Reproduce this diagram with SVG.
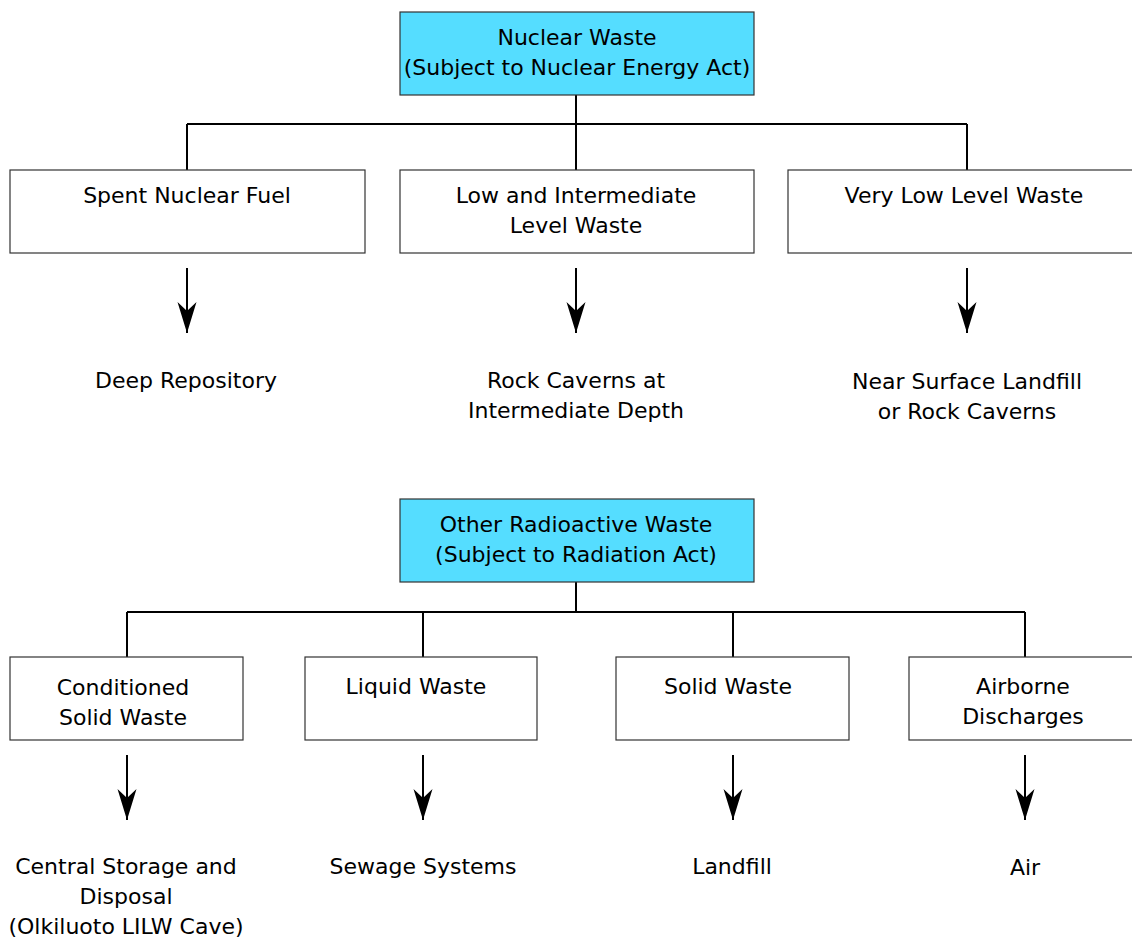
<svg xmlns="http://www.w3.org/2000/svg" width="1132" height="938" viewBox="0 0 1132 938">
<style>
text{font-family:"DejaVu Sans",Verdana,sans-serif;font-size:22px;fill:#000;text-anchor:middle}
.box{fill:#fff;stroke:#333;stroke-width:1.2}
.hd{fill:#55ddff;stroke:#333;stroke-width:1.2}
.ln{fill:none;stroke:#000;stroke-width:2}
.ar{fill:none;stroke:#000;stroke-width:2;marker-end:url(#arr)}
</style>
<defs>
<marker id="arr" markerUnits="userSpaceOnUse" markerWidth="32" markerHeight="22" viewBox="0 0 32 22" refX="31" refY="11" orient="auto">
<path d="M0,1.5 L31,11 L0,20.5 L9,11 Z" fill="#000"/>
</marker>
</defs>
<rect width="1132" height="938" fill="#fff"/>
<g id="connectors">
<path class="ln" d="M576,95 V124 M187,124 H967 M187,124 V170 M576,124 V170 M967,124 V170"/>
<path class="ar" d="M187,268 V333"/>
<path class="ar" d="M576,268 V333"/>
<path class="ar" d="M967,268 V333"/>
<path class="ln" d="M576,582 V612 M127,612 H1025 M127,612 V657 M423,612 V657 M733,612 V657 M1025,612 V657"/>
<path class="ar" d="M127,755 V820"/>
<path class="ar" d="M423,755 V820"/>
<path class="ar" d="M733,755 V820"/>
<path class="ar" d="M1025,755 V820"/>
</g>
<g id="nuclear-waste"><rect class="hd" x="400" y="12" width="354" height="83"/><text x="577" y="45">Nuclear Waste</text><text x="577" y="75">(Subject to Nuclear Energy Act)</text></g>
<g id="spent-fuel"><rect class="box" x="10" y="170" width="355" height="83"/><text x="187" y="203">Spent Nuclear Fuel</text></g>
<g id="lilw"><rect class="box" x="400" y="170" width="354" height="83"/><text x="576" y="203">Low and Intermediate</text><text x="576" y="233">Level Waste</text></g>
<g id="vllw"><rect class="box" x="788" y="170" width="350" height="83"/><text x="964" y="203">Very Low Level Waste</text></g>
<g id="deep-repo"><text x="186" y="388">Deep Repository</text></g>
<g id="rock-caverns"><text x="576" y="388">Rock Caverns at</text><text x="576" y="418">Intermediate Depth</text></g>
<g id="near-surface"><text x="967" y="389">Near Surface Landfill</text><text x="967" y="419">or Rock Caverns</text></g>
<g id="other-waste"><rect class="hd" x="400" y="499" width="354" height="83"/><text x="576" y="532">Other Radioactive Waste</text><text x="576" y="562">(Subject to Radiation Act)</text></g>
<g id="conditioned"><rect class="box" x="10" y="657" width="233" height="83"/><text x="123" y="695">Conditioned</text><text x="123" y="725">Solid Waste</text></g>
<g id="liquid"><rect class="box" x="305" y="657" width="232" height="83"/><text x="416" y="694">Liquid Waste</text></g>
<g id="solid"><rect class="box" x="616" y="657" width="233" height="83"/><text x="728" y="694">Solid Waste</text></g>
<g id="airborne"><rect class="box" x="909" y="657" width="229" height="83"/><text x="1023" y="694">Airborne</text><text x="1023" y="724">Discharges</text></g>
<g id="central-storage"><text x="126" y="874">Central Storage and</text><text x="126" y="904">Disposal</text><text x="126" y="934">(Olkiluoto LILW Cave)</text></g>
<g id="sewage"><text x="423" y="874">Sewage Systems</text></g>
<g id="landfill"><text x="732" y="874">Landfill</text></g>
<g id="air"><text x="1025" y="875">Air</text></g>
</svg>
